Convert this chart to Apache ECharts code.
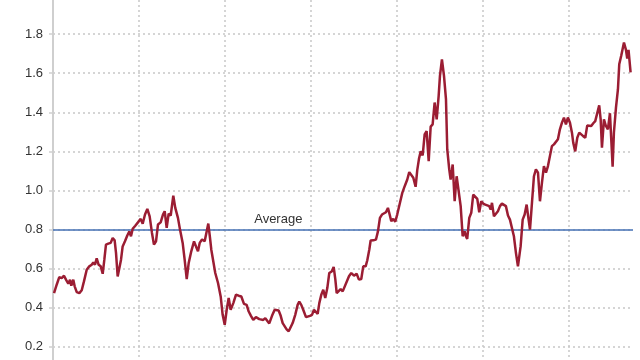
<!DOCTYPE html>
<html>
<head>
<meta charset="utf-8">
<script src="https://cdn.jsdelivr.net/npm/echarts@6/dist/echarts.min.js"></script>
<style>html,body{margin:0;padding:0;background:#fff}#c{width:640px;height:360px}</style>
</head>
<body>
<div id="c"></div>
<script>
const BASE_YEAR = 1955;
const years = [
1955.12,1955.43,1955.73,1956.01,1956.28,1956.51,1956.78,1956.98,1957.13,1957.36,1957.52,1957.76,1958.06,1958.34,1958.60,1958.92,
1959.22,1959.50,1959.69,1959.88,1960.08,1960.31,1960.55,1960.78,1960.97,1961.16,1961.43,1961.71,1961.94,1962.17,1962.33,1962.52,
1962.71,1962.91,1963.10,1963.37,1963.64,1963.87,1964.07,1964.27,1964.57,1964.88,1965.20,1965.43,1965.70,1965.97,
1966.24,1966.51,1966.74,1966.98,1967.21,1967.52,1967.79,1967.99,1968.22,1968.45,1968.69,1968.99,1969.22,1969.53,1969.77,1970.08,
1970.31,1970.55,1970.78,1971.08,1971.40,1971.63,1971.86,1972.06,1972.33,1972.64,1972.87,1973.06,1973.26,1973.41,1973.64,1973.87,
1974.19,1974.50,1974.73,1974.97,1975.20,1975.43,1975.66,1975.97,1976.28,1976.59,1976.90,1977.21,1977.52,
1977.76,1978.02,1978.29,1978.60,1978.80,1978.99,1979.22,1979.45,1979.69,1979.92,1980.15,1980.47,1980.78,1981.01,1981.24,1981.48,
1981.71,1981.94,1982.17,1982.41,1982.64,1982.87,1983.17,1983.45,1983.64,1983.87,1984.10,1984.42,1984.65,1984.88,1985.12,1985.35,
1985.58,1985.78,1985.97,1986.20,1986.43,1986.66,1986.90,1987.13,1987.41,1987.64,1987.83,1987.99,1988.22,1988.45,1988.69,1988.92,
1989.42,1989.69,1990.00,1990.31,1990.58,1990.85,1991.08,1991.36,1991.55,1991.78,1991.94,1992.24,1992.56,1992.79,1993.02,1993.26,
1993.49,1993.72,1993.95,1994.15,1994.34,1994.57,1994.80,1995.03,1995.35,1995.62,1995.90,1996.20,1996.43,1996.66,1996.90,1997.17,
1997.36,1997.56,1997.76,1997.99,1998.22,1998.45,1998.69,1998.92,1999.15,1999.38,1999.62,1999.85,2000.00,2000.23,
2000.47,2000.70,2000.85,2001.08,2001.24,2001.48,2001.71,2001.94,2002.17,2002.41,2002.64,2002.87,2003.02,2003.17,2003.41,2003.64,
2003.87,2004.10,2004.34,2004.57,2004.80,2005.03,2005.27,2005.50,2005.73,2005.90,2006.05,2006.28,2006.51,2006.74,2006.98,2007.21,
2007.44,2007.67,2007.91,2008.14,2008.37,2008.60,2008.84,2009.07,2009.22,2009.38,2009.62,2009.85,2010.08,2010.31,2010.47,2010.70,
2010.93,2011.16,2011.40,2011.63,2011.86,2012.09,2012.33,2012.56,2012.79,2013.02,2013.26,2013.49,2013.72,2013.95,2014.19,2014.42,
2014.65,2014.88,2015.12,2015.35,2015.50,2015.73,2015.97,2016.20,2016.43,2016.66,2016.90,2017.13,2017.36,2017.59,2017.83,2018.06,
2018.29,2018.52,2018.69,2018.84,2019.07,2019.30,2019.53,2019.77,2019.92,2020.08,2020.23,2020.47,2020.70,2020.85,2021.08,2021.40,
2021.63,2021.78,2021.93,2022.17
];
const ratio = [
0.475,0.518,0.557,0.552,0.564,0.544,0.523,0.544,0.513,0.544,0.510,0.480,0.475,0.490,0.535,0.595,
0.612,0.620,0.632,0.620,0.653,0.620,0.612,0.574,0.646,0.723,0.728,0.732,0.757,0.745,0.680,0.560,
0.560,0.646,0.714,0.740,0.770,0.790,0.766,0.804,0.820,0.837,0.855,0.830,0.877,0.906,
0.868,0.783,0.723,0.740,0.826,0.837,0.877,0.894,0.809,0.882,0.872,0.974,0.911,0.860,0.800,0.732,
0.646,0.547,0.629,0.689,0.740,0.714,0.689,0.732,0.749,0.740,0.740,0.831,0.757,0.697,0.694,0.578,
0.527,0.458,0.364,0.313,0.390,0.450,0.390,0.424,0.467,0.462,0.458,0.420,0.415,
0.381,0.359,0.338,0.352,0.360,0.342,0.347,0.338,0.347,0.342,0.320,0.359,0.390,0.398,0.386,0.359,
0.322,0.330,0.290,0.280,0.287,0.322,0.364,0.415,0.432,0.415,0.390,0.352,0.352,0.359,0.364,0.390,
0.390,0.369,0.424,0.467,0.492,0.450,0.501,0.578,0.586,0.609,0.547,0.475,0.484,0.496,0.484,0.492,
0.561,0.578,0.564,0.574,0.544,0.547,0.612,0.612,0.643,0.697,0.744,0.745,0.749,0.791,0.860,0.877,
0.877,0.889,0.911,0.877,0.843,0.855,0.840,0.877,0.937,0.988,1.022,1.056,1.094,1.087,1.065,1.019,
1.104,1.162,1.200,1.179,1.287,1.304,1.150,1.327,1.338,1.450,1.364,1.484,1.586,1.670,
1.586,1.467,1.210,1.108,1.056,1.133,0.945,1.073,1.073,0.920,0.766,0.791,0.766,0.752,0.860,0.886,
0.979,0.974,0.957,0.889,0.945,0.933,0.928,0.928,0.920,0.903,0.937,0.868,0.868,0.894,0.920,0.933,
0.940,0.920,0.872,0.851,0.860,0.766,0.680,0.612,0.603,0.714,0.851,0.877,0.928,0.851,0.800,0.937,
1.073,1.108,1.091,0.945,1.039,1.125,1.091,1.125,1.116,1.227,1.236,1.227,1.262,1.313,1.347,1.373,
1.338,1.373,1.347,1.296,1.245,1.200,1.270,1.296,1.292,1.278,1.270,1.333,1.327,1.330,1.344,1.355,
1.350,1.436,1.364,1.219,1.364,1.330,1.313,1.395,1.262,1.122,1.296,1.424,1.518,1.646,1.689,1.757,
1.719,1.675,1.719,1.604
];
const averageValue = 0.8;
const averageLabel = 'Average';
const averageLabelYear = 1981.2;
const yTicks = [0, 0.2, 0.4, 0.6, 0.8, 1.0, 1.2, 1.4, 1.6, 1.8, 2.0];

const seriesData = years.map((y, i) => [y - BASE_YEAR, ratio[i]]);

const chart = echarts.init(document.getElementById('c'), null, {renderer: 'canvas'});
chart.setOption({
  animation: false,
  backgroundColor: '#fff',
  grid: {left: 53, right: 7, top: -5, bottom: -26, containLabel: false, outerBoundsMode: 'none'},
  xAxis: {
    type: 'value', min: 0, max: 67.45, interval: 10,
    axisLine: {show: false}, axisTick: {show: false}, axisLabel: {show: false},
    splitLine: {show: true, showMinLine: false, showMaxLine: false,
      lineStyle: {type: [2, 3], color: '#c8c8c8', width: 1.5}}
  },
  yAxis: {
    type: 'value', min: yTicks[0], max: yTicks[yTicks.length - 1], interval: 0.2,
    axisLine: {show: true, lineStyle: {color: '#cfcfcf', width: 2}},
    axisTick: {show: true, length: 4, lineStyle: {color: '#cfcfcf', width: 1.5}},
    axisLabel: {color: '#333', fontSize: 13, fontFamily: 'Liberation Sans, Arial, sans-serif', margin: 10,
      formatter: v => v.toFixed(1)},
    splitLine: {show: true, lineStyle: {type: [2, 3], color: '#c8c8c8', width: 1.5}}
  },
  series: [{
    type: 'line', data: seriesData, showSymbol: false, symbol: 'none',
    lineStyle: {color: '#9b1d33', width: 2.5}, z: 3,
    markLine: {
      silent: true, symbol: ['none', 'none'],
      lineStyle: {color: '#4470b4', width: 1.5, type: 'solid'},
      label: {show: false},
      data: [{yAxis: averageValue}], z: 2
    },
    markPoint: {
      silent: true, symbol: 'circle', symbolSize: 0,
      label: {show: true, position: 'top', distance: 4, formatter: averageLabel,
        color: '#333', fontSize: 13, fontFamily: 'Liberation Sans, Arial, sans-serif'},
      data: [{coord: [averageLabelYear - BASE_YEAR, averageValue]}]
    }
  }]
});
</script>
</body>
</html>
